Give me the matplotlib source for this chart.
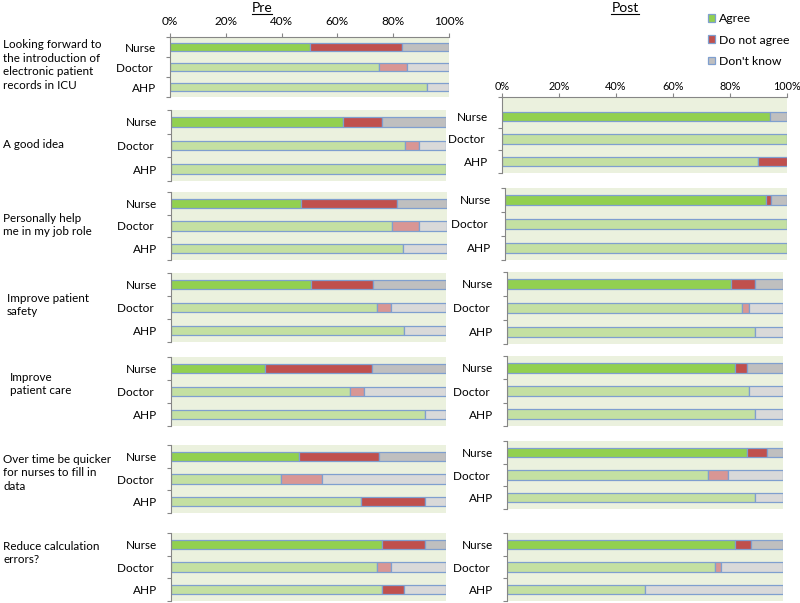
import matplotlib
matplotlib.use('Agg')
import matplotlib.pyplot as plt
from matplotlib.patches import Patch
from matplotlib.lines import Line2D

plt.rcParams['font.family'] = ['Lato', 'DejaVu Sans']

W, H = 800, 603

questions = [
    'Looking forward to\nthe introduction of\nelectronic patient\nrecords in ICU',
    'A good idea',
    'Personally help\nme in my job role',
    'Improve patient\nsafety',
    'Improve\npatient care',
    'Over time be quicker\nfor nurses to fill in\ndata',
    'Reduce calculation\nerrors?',
]
groups = ['Nurse', 'Doctor ', 'AHP']
responses = ['Agree', 'Do not agree', "Don't know"]

# fractions per question, columns = Nurse, Doctor, AHP
pre_agree = [[0.50, 0.75, 0.92], [0.625, 0.85, 1.0], [0.47, 0.80, 0.84],
             [0.51, 0.75, 0.846], [0.34, 0.65, 0.923], [0.467, 0.40, 0.692],
             [0.767, 0.75, 0.769]]
pre_not_agree = [[0.333, 0.10, 0.0], [0.143, 0.05, 0.0], [0.35, 0.10, 0.0],
                 [0.225, 0.05, 0.0], [0.39, 0.05, 0.0], [0.289, 0.15, 0.231],
                 [0.155, 0.05, 0.077]]
pre_dont_know = [[0.167, 0.15, 0.08], [0.232, 0.10, 0.0], [0.18, 0.10, 0.16],
                 [0.265, 0.20, 0.154], [0.27, 0.30, 0.077], [0.244, 0.45, 0.077],
                 [0.078, 0.20, 0.154]]

# no post data for the first question
post_agree = [None, [0.941, 1.0, 0.90], [0.926, 1.0, 1.0], [0.81, 0.85, 0.90],
              [0.825, 0.877, 0.90], [0.87, 0.727, 0.90], [0.825, 0.752, 0.50]]
post_not_agree = [None, [0.0, 0.0, 0.10], [0.016, 0.0, 0.0], [0.09, 0.027, 0.0],
                  [0.045, 0.0, 0.0], [0.073, 0.073, 0.0], [0.059, 0.023, 0.0]]
post_dont_know = [None, [0.059, 0.0, 0.0], [0.058, 0.0, 0.0], [0.10, 0.123, 0.10],
                  [0.13, 0.123, 0.10], [0.057, 0.20, 0.10], [0.116, 0.225, 0.50]]

# colours: rows = group, columns = response
colors = [['#92D050', '#C0504D', '#BFBFBF'],
          ['#C4E0A2', '#D99694', '#D9D9D9'],
          ['#C4E0A2', '#C0504D', '#D9D9D9']]
edge = '#7F9FCF'
panel_bg = '#EBF1DE'
axis_grey = '#868686'

# panel boxes in pixels: left, top, right, bottom
pre_boxes = [(170, 37, 449, 97), (171, 110, 446, 181), (171, 192, 447, 260),
             (171, 273, 446, 342), (171, 357, 446, 426), (171, 445, 446, 513),
             (171, 533, 446, 601)]
post_boxes = [None, (502, 97, 787, 173), (505, 188, 787, 260), (507, 272, 783, 344),
              (507, 356, 783, 426), (507, 441, 783, 509), (507, 533, 783, 601)]
label_pos = [(3, 65), (3, 145), (3, 225), (7, 305), (10, 384), (3, 473), (3, 553)]

fig = plt.figure(figsize=(W / 100, H / 100), dpi=100)


def px_axes(box):
    l, t, r, b = box
    return fig.add_axes([l / W, 1 - b / H, (r - l) / W, (b - t) / H])


def draw_panel(ax, agree, not_agree, dont_know, top_axis=False, top_extra=0.0,
               label_pad=6, tick_size=8.5):
    ax.set_facecolor(panel_bg)
    ypos = range(len(groups))
    left = [0.0] * len(groups)
    for k, vals in enumerate([agree, not_agree, dont_know]):
        for g in ypos:
            if vals[g] > 0:
                ax.barh(g, vals[g], left=left[g], height=0.42, color=colors[g][k],
                        edgecolor=edge, linewidth=0.9)
            left[g] += vals[g]
    ax.set_xlim(0, 1)
    ax.set_ylim(2.5, -0.5 - top_extra)
    ax.set_yticks(list(ypos))
    ax.set_yticklabels(groups, fontsize=8.5)
    ax.set_yticks([-0.5 - top_extra, 0.5, 1.5, 2.5], minor=True)
    ax.tick_params(axis='y', which='major', length=0, pad=10)
    ax.tick_params(axis='y', which='minor', length=3, color=axis_grey, width=0.8)
    for s in ['right', 'bottom']:
        ax.spines[s].set_visible(False)
    ax.spines['left'].set_color(axis_grey)
    ax.spines['left'].set_linewidth(0.8)
    if top_axis:
        ax.xaxis.set_ticks_position('top')
        ax.set_xticks([0, 0.2, 0.4, 0.6, 0.8, 1.0])
        ax.set_xticklabels(['0%', '20%', '40%', '60%', '80%', '100%'], fontsize=tick_size)
        ax.tick_params(axis='x', length=3, color=axis_grey, width=0.8, pad=label_pad)
        ax.spines['top'].set_color(axis_grey)
        ax.spines['top'].set_linewidth(0.8)
    else:
        ax.spines['top'].set_visible(False)
        ax.set_xticks([])


for i in range(len(questions)):
    ax = px_axes(pre_boxes[i])
    draw_panel(ax, pre_agree[i], pre_not_agree[i], pre_dont_know[i],
               top_axis=(i == 0), label_pad=4)
    if post_agree[i] is not None:
        ax = px_axes(post_boxes[i])
        draw_panel(ax, post_agree[i], post_not_agree[i], post_dont_know[i],
                   top_axis=(i == 1), top_extra=0.35 if i == 1 else 0.0,
                   label_pad=0.5, tick_size=7.8)
    x, y = label_pos[i]
    fig.text(x / W, 1 - y / H, questions[i], ha='left', va='center',
             fontsize=8.4, linespacing=1.3)

# column titles, underlined
for title, xc in [('Pre', 262), ('Post', 625)]:
    t = fig.text(xc / W, 1 - 7.5 / H, title, ha='center', va='center', fontsize=10)
    fig.canvas.draw()
    bb = t.get_window_extent()
    fig.add_artist(Line2D([bb.x0 / W, bb.x1 / W], [1 - 13.5 / H, 1 - 13.5 / H],
                          color='black', linewidth=0.8))

handles = [Patch(facecolor=colors[0][k], edgecolor=edge, linewidth=0.9) for k in range(3)]
fig.legend(handles, responses, loc='upper left', bbox_to_anchor=(702 / W, 1 - 7 / H),
           frameon=False, fontsize=8.8, handlelength=0.6, handleheight=0.6,
           handletextpad=0.3, labelspacing=0.85, borderpad=0)

fig.savefig('out.png', dpi=100)
